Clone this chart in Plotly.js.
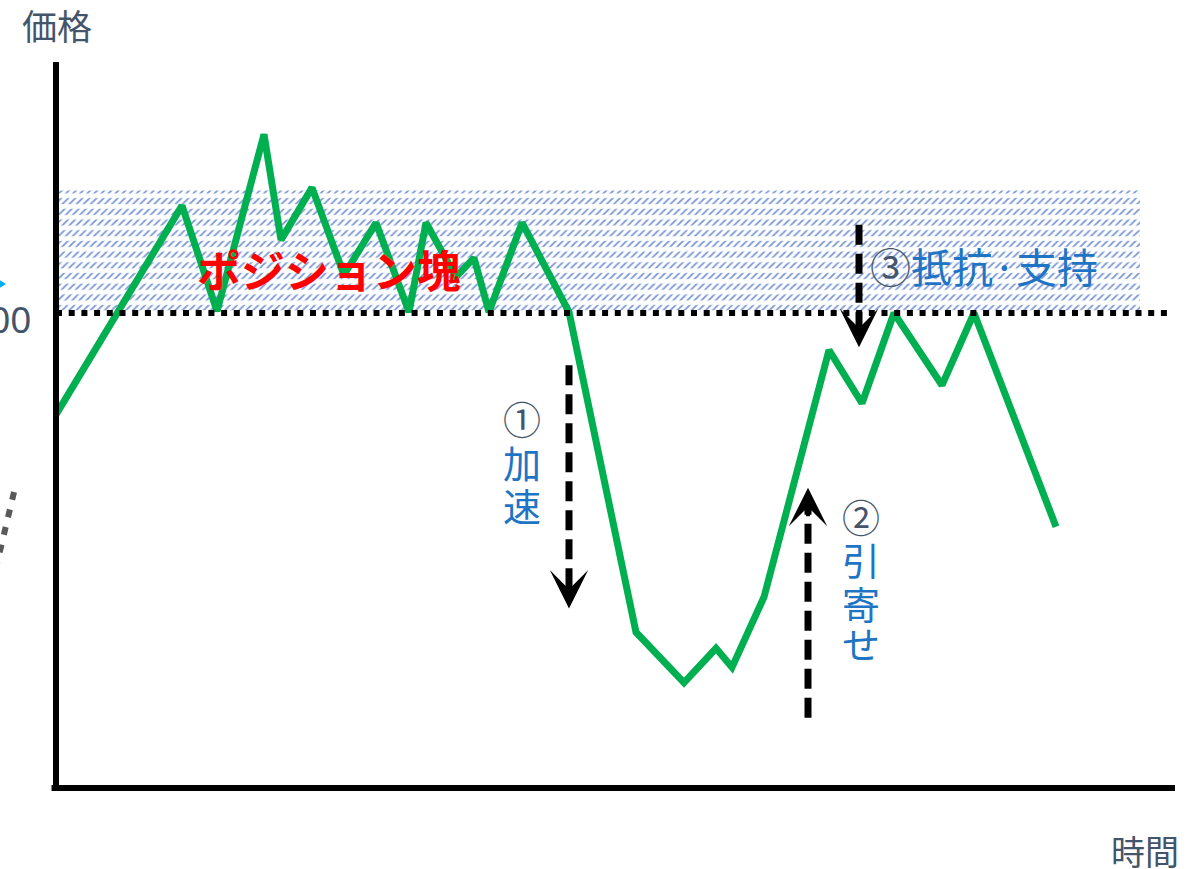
<!DOCTYPE html>
<html>
<head>
<meta charset="utf-8">
<script src="https://cdn.plot.ly/plotly-3.0.1.min.js"></script>
<style>html,body{margin:0;padding:0;background:#fff;}#chart{width:1203px;height:869px;}</style>
</head>
<body>
<div id="chart"></div>
<script>
// Price path (time units, price units)
const timeValues  = [0, 12.6, 16.1, 20.8, 22.5, 25.6, 28.8, 32.0, 35.3, 37.0, 40.0, 41.8, 43.3, 46.6, 51.3, 58.0, 62.8, 66.0, 67.6, 70.8, 77.3, 80.6, 83.8, 88.6, 91.8, 100.0];
const priceValues = [89.3, 111.3, 100.2, 118.8, 107.7, 113.2, 104.0, 109.5, 100.1, 109.5, 103.8, 105.8, 100.1, 109.5, 100.1, 66.4, 61.1, 64.7, 62.7, 70.1, 96.1, 90.5, 100.0, 92.4, 100.0, 77.5];

// Position block (hatched band) and key level
const bandTime  = [0, 108.4];
const bandPrice = [100.3, 112.9];
const keyLevel  = 100;
const keyLevelEnd = 111.6;

// Arrows: [time, startPrice, tipPrice]
const arrowAccel   = [51.3, 94.5, 68.9];
const arrowPull    = [75.2, 57.4, 81.6];
const arrowResist  = [80.3, 109.3, 96.4];

// Labels
const labelBlock   = "ポジション塊";
const labelAccel   = ["①", "加", "速"];
const labelPull    = ["②", "引", "寄", "せ"];
const labelResist  = "③抵抗·支持";
const yTitle = "価格";
const xTitle = "時間";
const levelLabel = "100";

const CJK = "Noto Sans CJK JP, Noto Sans, sans-serif";
const SLATE = "#44546A";
const BLUE = "#1F74C4";

const bandX = [bandTime[0], bandTime[1], bandTime[1], bandTime[0], bandTime[0]];
const bandY = [bandPrice[0], bandPrice[0], bandPrice[1], bandPrice[1], bandPrice[0]];

const traces = [
  {x: bandX, y: bandY, mode: "lines", fill: "toself", line: {width: 0},
   fillcolor: "white", hoverinfo: "skip", showlegend: false,
   fillpattern: {shape: "/", fgcolor: "#7F9BD6", bgcolor: "white", size: 5, solidity: 0.35}},
  {x: bandX, y: bandY, mode: "lines", fill: "toself", line: {width: 0},
   fillcolor: "rgba(0,0,0,0)", hoverinfo: "skip", showlegend: false,
   fillpattern: {shape: "-", fgcolor: "white", bgcolor: "rgba(0,0,0,0)", size: 10.7, solidity: 0.42}},
  {x: timeValues, y: priceValues, mode: "lines", line: {color: "#00B050", width: 7},
   hoverinfo: "skip", showlegend: false}
];

const pxU = 1 / 9.5; // price units per pixel (approx)

function shaft(a, down) {
  const end = down ? a[2] + 14 * pxU : a[2] - 14 * pxU;
  return {type: "line", xref: "x", yref: "y", x0: a[0], x1: a[0], y0: a[1], y1: end,
          line: {color: "black", width: 7, dash: "20px,9px"}, layer: "above"};
}
function head(a, down) {
  return {x: a[0], y: a[2], ax: a[0], ay: down ? a[2] + 30 * pxU : a[2] - 30 * pxU,
          xref: "x", yref: "y", axref: "x", ayref: "y", text: "", showarrow: true,
          arrowhead: 3, arrowsize: 1.6, arrowwidth: 4, arrowcolor: "black", standoff: 0};
}

const shapes = [
  // axes
  {type: "line", xref: "paper", yref: "paper", x0: 0, x1: 0, y0: -0.004, y1: 1, line: {color: "black", width: 6}, layer: "above"},
  {type: "line", xref: "paper", yref: "paper", x0: -0.004, x1: 1, y0: 0, y1: 0, line: {color: "black", width: 6}, layer: "above"},
  // key level dotted
  {type: "line", xref: "x", yref: "y", x0: bandTime[0], x1: keyLevelEnd, y0: keyLevel, y1: keyLevel,
   line: {color: "black", width: 6, dash: "6px,6.7px"}, layer: "above"},
  shaft(arrowAccel, true), shaft(arrowPull, false), shaft(arrowResist, true),
  // cut-off decorations at left edge
  {type: "line", xref: "paper", yref: "paper", x0: -0.0375, y0: 0.4077, x1: -0.0545, y1: 0.2975,
   line: {color: "#595959", width: 6, dash: "8px,10px"}},
  {type: "path", xref: "paper", yref: "paper", path: "M -0.0505 0.6997 L -0.0447 0.6942 L -0.0505 0.6887 Z",
   fillcolor: "#00B0F0", line: {width: 0}}
];

const ann = [];
ann.push({xref: "paper", yref: "paper", x: 0.001, y: 1.052, text: yTitle, showarrow: false, borderpad: 0,
          xanchor: "center", yanchor: "middle", font: {family: CJK, size: 35, color: SLATE}});
ann.push({xref: "paper", yref: "paper", x: 0.973, y: -0.086, text: xTitle, showarrow: false, borderpad: 0,
          xanchor: "center", yanchor: "middle", font: {family: CJK, size: 34, color: SLATE}});
ann.push({xref: "paper", yref: "paper", x: -0.0197, y: 0.647, text: levelLabel, showarrow: false,
          xanchor: "right", yanchor: "middle", font: {family: "Noto Sans, sans-serif", size: 37, color: SLATE}});
ann.push({xref: "x", yref: "y", x: 27.3, y: 104.6, text: "<b>" + labelBlock + "</b>", showarrow: false,
          xanchor: "center", yanchor: "middle", font: {family: CJK, size: 44, color: "#FF0000"}});
ann.push({xref: "x", yref: "y", x: 92.8, y: 105.0, showarrow: false, xanchor: "center", yanchor: "middle",
          text: '<span style="color:' + SLATE + '">' + labelResist.charAt(0) + '</span>' + labelResist.slice(1),
          font: {family: CJK, size: 41, color: BLUE}});
const accelY = [89.0, 84.4, 79.8];
labelAccel.forEach((c, i) => ann.push({xref: "x", yref: "y", x: 46.6, y: accelY[i], text: c, showarrow: false, borderpad: 0,
  xanchor: "center", yanchor: "middle", font: {family: CJK, size: 38, color: i === 0 ? SLATE : BLUE}}));
const pullY = [78.7, 74.2, 69.5, 65.3];
labelPull.forEach((c, i) => ann.push({xref: "x", yref: "y", x: 80.5, y: pullY[i], text: c, showarrow: false, borderpad: 0,
  xanchor: "center", yanchor: "middle", font: {family: CJK, size: 38, color: i === 0 ? SLATE : BLUE}}));
ann.push(head(arrowAccel, true), head(arrowPull, false), head(arrowResist, true));

const layout = {
  width: 1203, height: 869,
  margin: {l: 56, r: 28, t: 62, b: 81},
  paper_bgcolor: "white", plot_bgcolor: "white",
  xaxis: {range: [0, 111.9], showgrid: false, zeroline: false, showticklabels: false, ticks: "", showline: false, fixedrange: true},
  yaxis: {range: [50, 126.42], showgrid: false, zeroline: false, showticklabels: false, ticks: "", showline: false, fixedrange: true},
  shapes: shapes,
  annotations: ann,
  showlegend: false,
  hovermode: false
};

Plotly.newPlot("chart", traces, layout, {displayModeBar: false, staticPlot: true});
</script>
</body>
</html>
